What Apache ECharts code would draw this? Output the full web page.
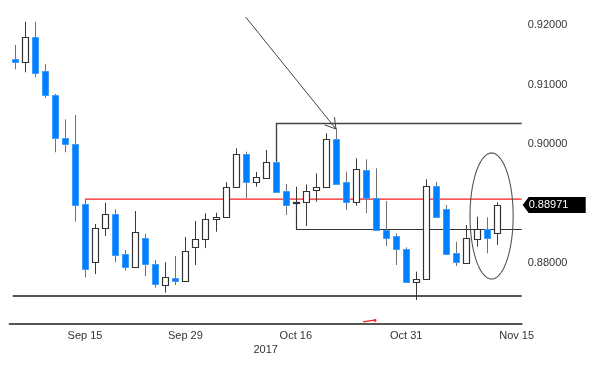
<!DOCTYPE html>
<html><head><meta charset="utf-8">
<script src="https://cdn.jsdelivr.net/npm/echarts@6/dist/echarts.min.js"></script>
<style>html,body{margin:0;padding:0;background:#fff}#c{width:600px;height:368px}</style>
</head><body><div id="c"></div>
<script>
// ---- data ----
const dates = ['Sep 6','Sep 7','Sep 8','Sep 11','Sep 12','Sep 13','Sep 14','Sep 15','Sep 18','Sep 19','Sep 20','Sep 21','Sep 22','Sep 25','Sep 26','Sep 27','Sep 28','Sep 29','Oct 2','Oct 3','Oct 4','Oct 5','Oct 6','Oct 9','Oct 10','Oct 11','Oct 12','Oct 13','Oct 16','Oct 17','Oct 18','Oct 19','Oct 20','Oct 23','Oct 24','Oct 25','Oct 26','Oct 27','Oct 30','Oct 31','Nov 1','Nov 2','Nov 3','Nov 6','Nov 7','Nov 8','Nov 9','Nov 10','Nov 13','Nov 14','Nov 15'];
const opens  = [0.91432,0.91381,0.91798,0.91235,0.90820,0.90100,0.90004,0.88987,0.88014,0.88578,0.88813,0.88139,0.87925,0.88409,0.87981,0.87622,0.87745,0.87694,0.88267,0.88392,0.88729,0.88773,0.89279,0.89825,0.89353,0.89431,0.89700,0.89210,0.89018,0.89026,0.89223,0.89269,0.90083,0.89355,0.89026,0.89560,0.89083,0.88544,0.88443,0.88223,0.87677,0.87723,0.89291,0.88898,0.88156,0.87997,0.88397,0.88566,0.88493];
const closes = [0.91386,0.91798,0.91201,0.90820,0.90095,0.89994,0.88970,0.87891,0.88578,0.88813,0.88127,0.87925,0.88510,0.87981,0.87633,0.87751,0.87694,0.88200,0.88392,0.88729,0.88773,0.89282,0.89825,0.89350,0.89439,0.89700,0.89195,0.88970,0.89024,0.89211,0.89274,0.90078,0.89319,0.89026,0.89572,0.89083,0.88544,0.88419,0.88223,0.87669,0.87731,0.89291,0.88773,0.88144,0.88014,0.88409,0.88561,0.88419,0.88971];
const lows   = [0.91258,0.91208,0.91123,0.90779,0.89859,0.89859,0.88689,0.87751,0.87807,0.88448,0.88004,0.87863,0.87920,0.87773,0.87576,0.87492,0.87622,0.87690,0.87959,0.88245,0.88520,0.88765,0.89275,0.89083,0.89279,0.89428,0.89178,0.88802,0.88835,0.88616,0.89026,0.89265,0.89307,0.88891,0.88959,0.88830,0.88540,0.88279,0.87959,0.87665,0.87369,0.87718,0.88770,0.88139,0.87942,0.87994,0.88267,0.88156,0.88296];
const highs  = [0.91668,0.92061,0.92061,0.91348,0.90842,0.90415,0.90488,0.89071,0.88650,0.89009,0.88898,0.88212,0.88869,0.88486,0.88043,0.88004,0.88110,0.88431,0.88701,0.88830,0.88840,0.89355,0.89926,0.89869,0.89527,0.89898,0.89705,0.89324,0.89279,0.89316,0.89501,0.90179,0.90260,0.89532,0.89758,0.89741,0.89589,0.89038,0.88493,0.88257,0.87846,0.89404,0.89363,0.88970,0.88352,0.88633,0.88773,0.88763,0.89016];
const yTickValues = [0.88, 0.90, 0.91, 0.92];
const xTickLabels = ['Sep 15','Sep 29','Oct 16','Oct 31','Nov 15'];
const xTickDates  = ['Sep 7','Sep 15','Sep 22','Sep 29','Oct 9','Oct 16','Oct 23','Oct 31','Nov 8','Nov 15'];
const yearLabel = '2017';
const yearAt = 'Oct 11';
const lastPrice = 0.88971;
const baseLevel = 0.87436;
const redLine = {start: 'Sep 15', level: 0.89076};
const topLine = {start: 'Oct 12', from: 0.89700, level: 0.90353};
const midLine = {start: 'Oct 16', from: 0.89021, level: 0.88571};
const arrowFrom = ['Oct 9', 0.92140];
const arrowTo = ['Oct 20', 0.90252];
const ellipseSpec = {center: 'Nov 10', shift: 0.5, halfBars: 2.15, top: 0.89847, bottom: 0.87722};
const redMark = {from: 'Oct 24', shift: 0.7, to: 'Oct 26', level: 0.87000, rise: 0.00035};
const yMin = 0.86964, yMax = 0.924266;

// ---- chart ----
const FONT = "'Liberation Sans', Arial, sans-serif";
const FS = 11;
const chart = echarts.init(document.getElementById('c'));
const candleData = opens.map((o, i) => [i, o, closes[i], lows[i], highs[i]]);

function renderCandle(params, api) {
  const i = api.value(0), o = api.value(1), c = api.value(2), l = api.value(3), h = api.value(4);
  const pO = api.coord([i, o]), pC = api.coord([i, c]), pL = api.coord([i, l]), pH = api.coord([i, h]);
  const x = Math.round(pO[0]) + 0.5;
  const up = c >= o;
  const top = Math.round(Math.min(pO[1], pC[1])) + 0.5;
  const bot = Math.round(Math.max(pO[1], pC[1])) + 0.5;
  return {type: 'group', children: [
    {type: 'line', shape: {x1: x, y1: pH[1], x2: x, y2: pL[1]}, style: {stroke: up ? '#3a3a3a' : '#707070', lineWidth: 1}},
    {type: 'rect', shape: {x: x - 3, y: top, width: 6, height: Math.max(bot - top, 1)},
      style: up ? {fill: '#fff', stroke: '#333', lineWidth: 1.2} : {fill: '#0080ff', stroke: '#3c9dff', lineWidth: 1}}
  ]};
}

function renderNotes(params, api) {
  const cs = params.coordSys;
  const L = cs.x, R = cs.x + cs.width, B = cs.y + cs.height;
  const X = d => api.coord([dates.indexOf(d), yMin])[0];
  const Y = v => api.coord([0, v])[1];
  const step = X(dates[1]) - X(dates[0]);
  const cr = v => Math.round(v) + 0.5;
  const kids = [];
  const line = (x1, y1, x2, y2, stroke, lw) => kids.push({type: 'line', shape: {x1, y1, x2, y2}, style: {stroke, lineWidth: lw}});
  // support line
  const yb = Math.round(Y(baseLevel));
  line(L + 3, yb, R, yb, '#555', 2);
  // red line (solid red 1px band)
  const xr = Math.round(X(redLine.start));
  kids.push({type: 'rect', shape: {x: xr, y: Math.round(Y(redLine.level)) - 0.5, width: R - xr, height: 1.3}, style: {fill: '#ff1a1a'}});
  // top bracket
  const yt = cr(Y(topLine.level)), xt = cr(X(topLine.start));
  kids.push({type: 'polyline', shape: {points: [[xt, Y(topLine.from)], [xt, yt], [R, yt]]}, style: {stroke: '#444', lineWidth: 1.4, fill: null}});
  // middle bracket
  const ym = cr(Y(midLine.level)), xm = cr(X(midLine.start));
  kids.push({type: 'polyline', shape: {points: [[xm, Y(midLine.from)], [xm, ym], [R, ym]]}, style: {stroke: '#333', lineWidth: 1.2, fill: null}});
  // arrow
  const ax1 = X(arrowFrom[0]), ay1 = Y(arrowFrom[1]), ax2 = X(arrowTo[0]), ay2 = Y(arrowTo[1]);
  line(ax1, ay1, ax2, ay2, '#444', 1);
  const back = Math.atan2(ay1 - ay2, ax1 - ax2);
  [-0.55, 0.55].forEach(d => line(ax2, ay2, ax2 + 12 * Math.cos(back + d), ay2 + 12 * Math.sin(back + d), '#444', 1));
  // ellipse
  const ecx = X(ellipseSpec.center) + ellipseSpec.shift * step;
  const erx = ellipseSpec.halfBars * step;
  const ety = Y(ellipseSpec.top), eby = Y(ellipseSpec.bottom);
  const ecy = (ety + eby) / 2, ery = (eby - ety) / 2;
  const pts = [];
  for (let k = 0; k <= 96; k++) { const t = k / 96 * Math.PI * 2; pts.push([ecx + erx * Math.cos(t), ecy + ery * Math.sin(t)]); }
  kids.push({type: 'polyline', shape: {points: pts}, style: {stroke: '#555', lineWidth: 1.1, fill: null}});
  // small red mark
  const rx1 = X(redMark.from) + redMark.shift * step, rx2 = X(redMark.to);
  const ry1 = Y(redMark.level), ry2 = Y(redMark.level + redMark.rise);
  line(rx1, ry1, rx2, ry2, '#ff2020', 1.2);
  line(rx2, ry2, rx2 - 3, ry2 + 0.5, '#ff2020', 1.2);
  line(rx2, ry2, rx2 - 1.5, ry2 + 2.5, '#ff2020', 1.2);
  // last price tag
  const yp = Y(lastPrice);
  kids.push({type: 'polygon', shape: {points: [[R + 1, yp], [R + 7, yp - 8], [R + 64, yp - 8], [R + 64, yp + 8], [R + 7, yp + 8]]}, style: {fill: '#000'}});
  kids.push({type: 'text', style: {x: R + 7, y: yp, text: lastPrice.toFixed(5), fill: '#fff', fontSize: FS, fontFamily: FONT, verticalAlign: 'middle', align: 'left'}});
  // year
  kids.push({type: 'text', style: {x: X(yearAt), y: B + 26, text: yearLabel, fill: '#333', fontSize: FS, fontFamily: FONT, verticalAlign: 'middle', align: 'center'}});
  return {type: 'group', children: kids};
}

chart.setOption({
  animation: false,
  backgroundColor: '#fff',
  grid: {left: 9.7, top: 0, width: 512, height: 324},
  xAxis: {
    type: 'category', data: dates, boundaryGap: true,
    axisLine: {lineStyle: {color: '#555', width: 2}},
    axisTick: {alignWithLabel: true, length: 3, interval: (i, v) => xTickDates.includes(v), lineStyle: {color: '#555'}},
    axisLabel: {interval: (i, v) => xTickLabels.includes(v), color: '#333', fontSize: FS, margin: 6, fontFamily: FONT},
    splitLine: {show: false}
  },
  yAxis: {
    type: 'value', position: 'right', min: yMin, max: yMax,
    splitLine: {show: false}, axisLine: {show: false}, axisTick: {show: false},
    axisLabel: {customValues: yTickValues, formatter: v => v.toFixed(5), color: '#333', fontSize: FS, margin: 6, fontFamily: FONT}
  },
  series: [
    {type: 'custom', name: 'notesBack', renderItem: renderNotes, data: [[0, lastPrice]], encode: {x: 0, y: 1}, clip: false, z: 1, silent: true},
    {type: 'custom', name: 'EURGBP', renderItem: renderCandle, data: candleData, encode: {x: 0, y: [1, 2, 3, 4]}, z: 2}
  ]
});
</script></body></html>
